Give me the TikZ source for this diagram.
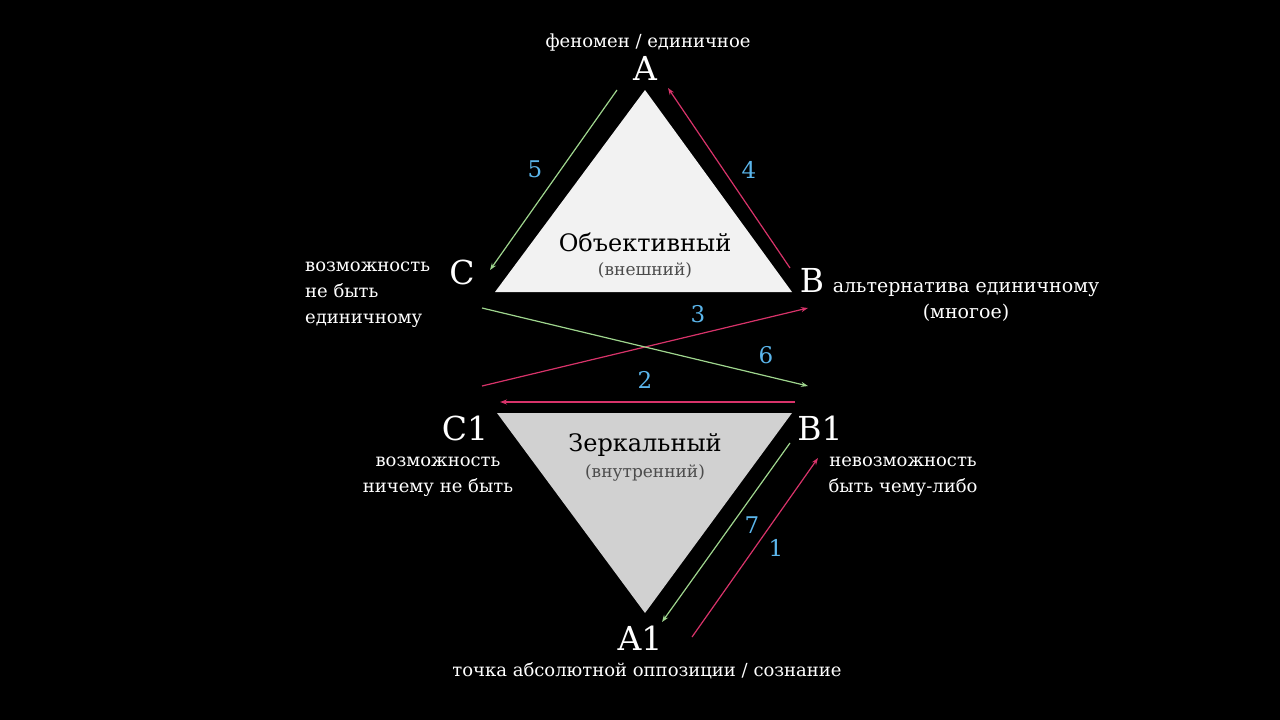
\documentclass[tikz,border=0pt]{standalone}
\usepackage{fontspec}
\setmainfont{DejaVu Serif}
\usetikzlibrary{arrows.meta}
\definecolor{rd}{HTML}{D8336A}
\definecolor{gr}{HTML}{9FD68E}
\definecolor{bl}{HTML}{5BB6EC}
\begin{document}
\begin{tikzpicture}[x=1pt,y=-1pt,
  lett/.style={text=white,font=\fontsize{33}{38}\selectfont,inner sep=0},
  lbl/.style={text=white,font=\fontsize{18}{26}\selectfont,align=center,inner sep=0},
  num/.style={text=bl,font=\fontsize{23}{28}\selectfont,inner sep=0},
  ra/.style={rd,line width=1.2pt,-{Stealth[length=7pt,width=5pt]}},
  ga/.style={gr,line width=1.2pt,-{Stealth[length=7pt,width=5pt]}}]
\fill[black] (0,0) rectangle (1280,720);
\useasboundingbox (0,0) rectangle (1280,720);
\fill[white!95!black] (645,90) -- (495,292) -- (792,292) -- cycle;
\fill[black!18] (497,413) -- (792,413) -- (645,613) -- cycle;
\node[lett] (A) at (645,68) {A};
\node[lett] (C) at (462,272) {C};
\node[lett] (B) at (812,280) {B};
\node[lett] (C1) at (465,428) {C1};
\node[lett] (B1) at (820,428) {B1};
\node[lett] (A1) at (640,638) {A1};
\node[font=\fontsize{24}{30}\selectfont,inner sep=0] (t1) at (645,242) {Объективный};
\node[font=\fontsize{17}{22}\selectfont,text=black!70,inner sep=0] (s1) at (645,270) {(внешний)};
\node[font=\fontsize{24}{30}\selectfont,inner sep=0] (t2) at (645,445) {Зеркальный};
\node[font=\fontsize{17}{22}\selectfont,text=black!70,inner sep=0] (s2) at (645,473) {(внутренний)};
\node[lbl] (la) at (648,43) {феномен / единичное};
\node[lbl,align=left,anchor=north west] (lc) at (305,262) {возможность\\не быть\\единичному};
\node[lbl,font=\fontsize{19}{26}\selectfont] (lb) at (966,302) {альтернатива единичному\\(многое)};
\node[lbl] (lc1) at (438,477) {возможность\\ничему не быть};
\node[lbl] (lb1) at (903,477) {невозможность\\быть чему-либо};
\node[lbl] (la1) at (647,671) {точка абсолютной оппозиции / сознание};
\coordinate (p5a) at (617,90); \coordinate (p5b) at (490,270);
\coordinate (p4a) at (790,268); \coordinate (p4b) at (668,88);
\coordinate (p3a) at (482,386); \coordinate (p3b) at (808,308);
\coordinate (p6a) at (482,308); \coordinate (p6b) at (808,386);
\coordinate (p2a) at (795,402); \coordinate (p2b) at (500,402);
\coordinate (p7a) at (790,443); \coordinate (p7b) at (662,622);
\coordinate (p1a) at (692,637); \coordinate (p1b) at (818,458);
\draw[ga] (p5a) -- (p5b);
\draw[ra] (p4a) -- (p4b);
\draw[ra] (p3a) -- (p3b);
\draw[ga] (p6a) -- (p6b);
\draw[ra] (p2a) -- (p2b);
\draw[ga] (p7a) -- (p7b);
\draw[ra] (p1a) -- (p1b);
\node[num] (n5) at (535,169) {5};
\node[num] (n4) at (749,170) {4};
\node[num] (n3) at (698,314) {3};
\node[num] (n6) at (766,355) {6};
\node[num] (n2) at (645,380) {2};
\node[num] (n7) at (752,525) {7};
\node[num] (n1) at (776,548) {1};
\end{tikzpicture}
\end{document}
